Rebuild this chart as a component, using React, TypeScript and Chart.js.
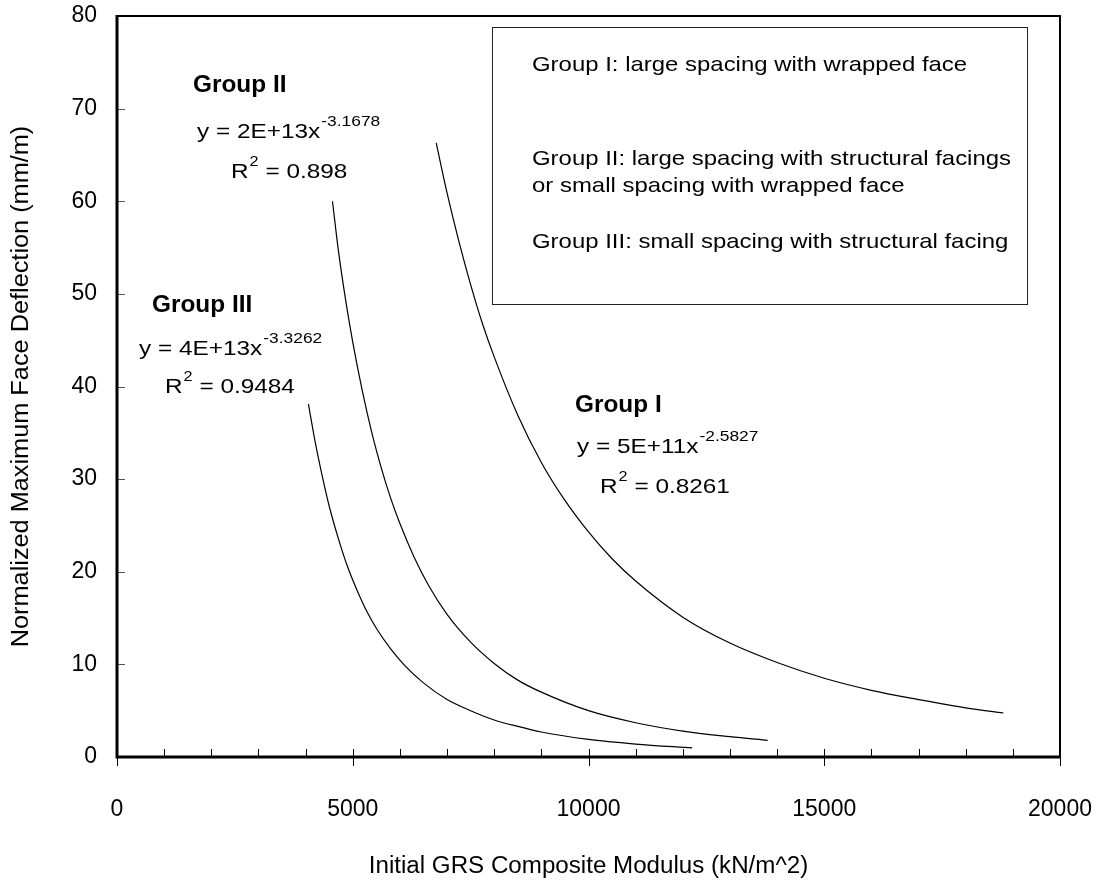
import React, { useEffect, useRef } from "react";
import { Chart, registerables } from "chart.js";
Chart.register(...registerables);

// ---- data ----
const group1X = [6770, 7000, 7250, 7500, 7750, 8000, 8500, 9000, 9500, 10000, 10500, 11000, 12000, 13000, 14000, 15000, 16000, 17000, 18000, 18800];
const group1Y = [66.3, 60.9, 55.7, 51.0, 46.8, 43.2, 36.9, 31.8, 27.7, 24.3, 21.4, 19.0, 15.1, 12.3, 10.2, 8.5, 7.2, 6.2, 5.3, 4.75];
const group2X = [4570, 4700, 4850, 5000, 5200, 5400, 5600, 5800, 6000, 6300, 6600, 7000, 7500, 8000, 8500, 9000, 10000, 11000, 12000, 13000, 13800];
const group2Y = [60.0, 54.5, 49.3, 44.8, 39.6, 35.1, 31.3, 28.0, 25.2, 21.6, 18.6, 15.4, 12.4, 10.1, 8.3, 7.0, 5.0, 3.7, 2.8, 2.2, 1.8];
const group3X = [4060, 4200, 4350, 4500, 4700, 4900, 5100, 5300, 5500, 5800, 6100, 6500, 7000, 7500, 8000, 8500, 9000, 10000, 11000, 12200];
const group3Y = [38.1, 34.1, 30.4, 27.1, 23.5, 20.4, 17.9, 15.7, 13.9, 11.7, 9.9, 8.0, 6.2, 5.0, 4.0, 3.3, 2.7, 1.9, 1.4, 0.98];

const xTickValues = [0, 5000, 10000, 15000, 20000];
const yTickValues = [0, 10, 20, 30, 40, 50, 60, 70, 80];

const groupNames = ["Group I", "Group II", "Group III"];
const eqMain = ["y = 5E+11x", "y = 2E+13x", "y = 4E+13x"];
const eqExp = ["-2.5827", "-3.1678", "-3.3262"];
const r2Values = ["0.8261", "0.898", "0.9484"];
const legendLines = [
  "Group I: large spacing with wrapped face",
  "Group II: large spacing with structural facings",
  "or small spacing with wrapped face",
  "Group III: small spacing with structural facing",
];
const xTitle = "Initial GRS Composite Modulus (kN/m^2)";
const yTitle = "Normalized Maximum Face Deflection (mm/m)";

const FONT = "'Liberation Sans', Arial, sans-serif";

function toPoints(xs: number[], ys: number[]) {
  return xs.map((x, i) => ({ x, y: ys[i] }));
}

function stretchText(ctx: CanvasRenderingContext2D, text: string, x: number, y: number, font: string, sx: number) {
  ctx.save();
  ctx.font = font;
  ctx.translate(x, y);
  ctx.scale(sx, 1);
  ctx.fillText(text, 0, 0);
  const w = ctx.measureText(text).width * sx;
  ctx.restore();
  return w;
}

const decorPlugin = {
  id: "decor",
  beforeDraw(chart: any) {
    const ctx = chart.ctx;
    ctx.save();
    ctx.fillStyle = "#fff";
    ctx.fillRect(0, 0, chart.width, chart.height);
    ctx.restore();
  },
  afterDatasetsDraw(chart: any) {
    const ctx: CanvasRenderingContext2D = chart.ctx;
    const { left, right, top, bottom } = chart.chartArea;
    const xs = chart.scales.x;
    const ys = chart.scales.y;
    ctx.save();
    // tick marks
    ctx.strokeStyle = "#555";
    ctx.lineWidth = 1;
    for (const v of yTickValues) {
      const p = Math.round(ys.getPixelForValue(v)) + 0.5;
      ctx.beginPath();
      ctx.moveTo(left, p);
      ctx.lineTo(left + 8, p);
      ctx.stroke();
    }
    ctx.strokeStyle = "#000";
    for (let v = 0; v <= 20000; v += 1000) {
      const p = Math.round(xs.getPixelForValue(v)) + 0.5;
      const major = v % 5000 === 0;
      ctx.beginPath();
      ctx.moveTo(p, bottom - 8);
      ctx.lineTo(p, major ? bottom + 9 : bottom);
      ctx.stroke();
    }
    // frame
    ctx.strokeStyle = "#000";
    ctx.lineWidth = 2;
    ctx.beginPath();
    ctx.moveTo(left, top);
    ctx.lineTo(right, top);
    ctx.lineTo(right, bottom);
    ctx.stroke();
    ctx.lineWidth = 3;
    ctx.beginPath();
    ctx.moveTo(left, top - 1);
    ctx.lineTo(left, bottom);
    ctx.lineTo(right + 1, bottom);
    ctx.stroke();

    // legend box
    ctx.lineWidth = 1;
    ctx.strokeStyle = "#222";
    ctx.strokeRect(492.5, 27.5, 535, 277);
    ctx.fillStyle = "#000";
    ctx.textBaseline = "alphabetic";
    const lf = `21px ${FONT}`;
    stretchText(ctx, legendLines[0], 532, 71, lf, 1.14);
    stretchText(ctx, legendLines[1], 532, 165, lf, 1.14);
    stretchText(ctx, legendLines[2], 532, 192, lf, 1.14);
    stretchText(ctx, legendLines[3], 532, 248, lf, 1.14);

    // annotations
    const bf = `bold 23px ${FONT}`;
    const nf = `21px ${FONT}`;
    const sf = `15px ${FONT}`;
    const s2 = `14px ${FONT}`;
    const sx = 1.16;
    const drawEq = (i: number, gx: number, gy: number, ex: number, ey: number, rx: number, ry: number) => {
      stretchText(ctx, groupNames[i], gx, gy, bf, 1.06);
      const w = stretchText(ctx, eqMain[i], ex, ey, nf, sx);
      stretchText(ctx, eqExp[i], ex + w + 1, ey - 12, sf, sx);
      const wr = stretchText(ctx, "R", rx, ry, nf, sx);
      const w2 = stretchText(ctx, "2", rx + wr + 1, ry - 12, s2, sx);
      stretchText(ctx, " = " + r2Values[i], rx + wr + w2 + 1, ry, nf, sx);
    };
    drawEq(1, 193, 92, 197, 138, 231, 178);
    drawEq(2, 152, 312, 139, 355, 165, 393);
    drawEq(0, 575, 412, 577, 453, 600, 493);

    // axis titles
    const tf = `23px ${FONT}`;
    ctx.font = tf;
    ctx.textAlign = "center";
    ctx.textBaseline = "middle";
    ctx.save();
    ctx.translate((left + right) / 2, 867);
    ctx.scale(1.05, 1);
    ctx.fillText(xTitle, 0, 0);
    ctx.restore();
    ctx.save();
    ctx.translate(22, (top + bottom) / 2);
    ctx.rotate(-Math.PI / 2);
    ctx.scale(1.1, 1);
    ctx.fillText(yTitle, 0, 0);
    ctx.restore();
    ctx.restore();
  },
};

const zeroPad = (s: any) => {
  s.paddingTop = 0;
  s.paddingBottom = 0;
  s.paddingLeft = 0;
  s.paddingRight = 0;
};

export default function App() {
  const ref = useRef<HTMLCanvasElement>(null);
  useEffect(() => {
    const canvas = ref.current!;
    const line = { borderColor: "#000", borderWidth: 1.2, pointRadius: 0, fill: false, cubicInterpolationMode: "monotone" as const };
    const chart = new Chart(canvas, {
      type: "line",
      data: {
        datasets: [
          { label: groupNames[0], data: toPoints(group1X, group1Y), ...line },
          { label: groupNames[1], data: toPoints(group2X, group2Y), ...line },
          { label: groupNames[2], data: toPoints(group3X, group3Y), ...line },
        ],
      },
      options: {
        animation: false,
        responsive: false,
        devicePixelRatio: 1,
        layout: { padding: { left: 0, right: 44, top: 16, bottom: 0 } },
        plugins: { legend: { display: false }, tooltip: { enabled: false } },
        scales: {
          x: {
            type: "linear",
            min: 0,
            max: 20000,
            grid: { display: false, drawTicks: false },
            border: { display: false },
            afterBuildTicks: (s: any) => { s.ticks = xTickValues.map((v) => ({ value: v })); },
            ticks: { color: "#000", font: { family: FONT, size: 23 }, padding: 39, maxRotation: 0, autoSkip: false, callback: (v: any) => String(v) },
            afterFit: (s: any) => { s.height = 123; zeroPad(s); },
          },
          y: {
            type: "linear",
            min: 0,
            max: 80,
            grid: { display: false, drawTicks: false },
            border: { display: false },
            afterBuildTicks: (s: any) => { s.ticks = yTickValues.map((v) => ({ value: v })); },
            ticks: { color: "#000", font: { family: FONT, size: 23 }, padding: 20, callback: (v: any) => String(v) },
            afterFit: (s: any) => { s.width = 117; zeroPad(s); },
          },
        },
      },
      plugins: [decorPlugin],
    });
    return () => chart.destroy();
  }, []);
  return (
    <div style={{ position: "fixed", left: 0, top: 0, width: 1104, height: 880, background: "#fff" }}>
      <canvas ref={ref} width={1104} height={880} style={{ display: "block", width: 1104, height: 880 }} />
    </div>
  );
}
